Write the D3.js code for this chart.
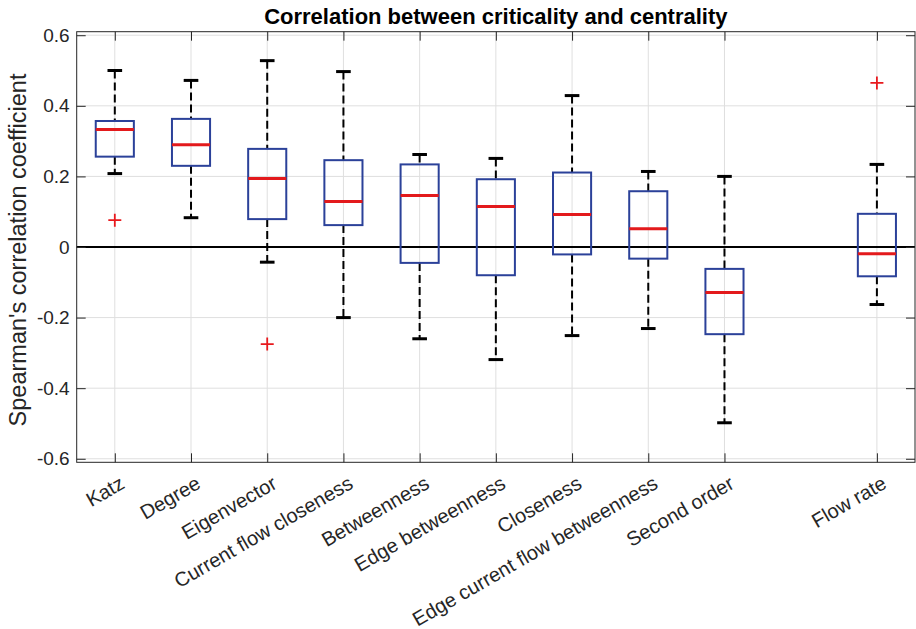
<!DOCTYPE html>
<html lang="en">
<head>
    <meta charset="UTF-8">
    <title>Correlation between criticality and centrality</title>
    <script src="https://d3js.org/d3.v7.min.js"></script>
    <style>
        body { margin: 0; background: #fff; font-family: "Liberation Sans", Arial, sans-serif; }
        text { fill: #262626; }
        .grid line { stroke: #dfdfdf; stroke-width: 1px; }
        .axis path, .axis line { stroke: #262626; stroke-width: 1px; }
        .axis text { font-size: 19px; fill: #262626; font-family: "Liberation Sans", Arial, sans-serif; }
    </style>
</head>
<body>
    <svg id="chart" width="916" height="629"></svg>

    <script>
        // box summaries
        const categories = ["Katz", "Degree", "Eigenvector", "Current flow closeness", "Betweenness",
            "Edge betweenness", "Closeness", "Edge current flow betweenness", "Second order", "Flow rate"];
        const positions = [1, 2, 3, 4, 5, 6, 7, 8, 9, 11];
        const whiskerHigh = [0.500, 0.472, 0.528, 0.497, 0.262, 0.251, 0.429, 0.214, 0.200, 0.234];
        const q3 = [0.357, 0.363, 0.278, 0.246, 0.234, 0.192, 0.211, 0.158, -0.062, 0.094];
        const medians = [0.333, 0.290, 0.194, 0.129, 0.146, 0.115, 0.092, 0.052, -0.129, -0.019];
        const q1 = [0.256, 0.230, 0.079, 0.062, -0.045, -0.080, -0.021, -0.033, -0.247, -0.083];
        const whiskerLow = [0.208, 0.083, -0.043, -0.200, -0.260, -0.319, -0.251, -0.231, -0.498, -0.163];
        const outliers = [[0.076], [], [-0.275], [], [], [], [], [], [], [0.465]];
        const yTicks = [-0.6, -0.4, -0.2, 0, 0.2, 0.4, 0.6];

        const svg = d3.select("#chart");
        const pLeft = 76.7, pRight = 915, pTop = 31.7, pBottom = 462.3;

        const x = d3.scaleLinear().domain([0.5, 11.5]).range([pLeft, pRight]);
        const y = d3.scaleLinear().domain([-0.61, 0.61]).range([pBottom, pTop]);
        const boxHalf = x(1.25) - x(1);
        const capHalf = x(1.096) - x(1);

        const boxes = categories.map((c, i) => ({
            name: c, pos: positions[i], hi: whiskerHigh[i], q3: q3[i],
            med: medians[i], q1: q1[i], lo: whiskerLow[i], out: outliers[i]
        }));

        // grid
        svg.append("g").attr("class", "grid")
            .selectAll("line").data(yTicks).enter().append("line")
            .attr("x1", pLeft).attr("x2", pRight)
            .attr("y1", d => y(d)).attr("y2", d => y(d));
        svg.append("g").attr("class", "grid")
            .selectAll("line").data(positions).enter().append("line")
            .attr("y1", pTop).attr("y2", pBottom)
            .attr("x1", d => x(d)).attr("x2", d => x(d));

        // zero line
        svg.append("line")
            .attr("x1", pLeft).attr("x2", pRight)
            .attr("y1", y(0)).attr("y2", y(0))
            .attr("stroke", "#000").attr("stroke-width", 2.2);

        const box = svg.append("g").selectAll(".box").data(boxes).enter()
            .append("g").attr("class", "box");

        // whiskers
        box.append("line")
            .attr("x1", d => x(d.pos)).attr("x2", d => x(d.pos))
            .attr("y1", d => y(d.hi)).attr("y2", d => y(d.q3))
            .attr("stroke", "#000").attr("stroke-width", 2).attr("stroke-dasharray", "8,4");
        box.append("line")
            .attr("x1", d => x(d.pos)).attr("x2", d => x(d.pos))
            .attr("y1", d => y(d.q1)).attr("y2", d => y(d.lo))
            .attr("stroke", "#000").attr("stroke-width", 2).attr("stroke-dasharray", "8,4");
        // caps
        ["hi", "lo"].forEach(k => {
            box.append("line")
                .attr("x1", d => x(d.pos) - capHalf).attr("x2", d => x(d.pos) + capHalf)
                .attr("y1", d => y(d[k])).attr("y2", d => y(d[k]))
                .attr("stroke", "#000").attr("stroke-width", 3);
        });
        // box
        box.append("rect")
            .attr("x", d => x(d.pos) - boxHalf).attr("width", boxHalf * 2)
            .attr("y", d => y(d.q3)).attr("height", d => y(d.q1) - y(d.q3))
            .attr("fill", "none").attr("stroke", "#2b4199").attr("stroke-width", 2);
        // median
        box.append("line")
            .attr("x1", d => x(d.pos) - boxHalf).attr("x2", d => x(d.pos) + boxHalf)
            .attr("y1", d => y(d.med)).attr("y2", d => y(d.med))
            .attr("stroke", "#e31a1c").attr("stroke-width", 3);
        // outliers
        box.selectAll(".out").data(d => d.out.map(v => ({ pos: d.pos, v }))).enter()
            .append("path").attr("class", "out")
            .attr("d", d => `M${x(d.pos) - 6.5},${y(d.v)}h13M${x(d.pos)},${y(d.v) - 6.5}v13`)
            .attr("stroke", "#e8191d").attr("stroke-width", 1.8);

        // axes, ticks pointing inward
        svg.append("g").attr("class", "axis")
            .attr("transform", `translate(${pLeft},0)`)
            .call(d3.axisLeft(y).tickValues(yTicks).tickSize(-9).tickPadding(7)
                .tickFormat(d => d === 0 ? "0" : d.toFixed(1)));
        svg.append("g").attr("class", "axis")
            .attr("transform", `translate(${pRight},0)`)
            .call(d3.axisRight(y).tickValues(yTicks).tickSize(-9).tickFormat(""));
        svg.append("g").attr("class", "axis")
            .attr("transform", `translate(0,${pTop})`)
            .call(d3.axisTop(x).tickValues(positions).tickSize(-9).tickFormat(""));
        svg.append("g").attr("class", "axis")
            .attr("transform", `translate(0,${pBottom})`)
            .call(d3.axisBottom(x).tickValues(positions).tickSize(-9).tickFormat(""));
        svg.selectAll(".axis .domain").remove();

        // frame
        svg.append("rect")
            .attr("x", pLeft).attr("y", pTop)
            .attr("width", pRight - pLeft).attr("height", pBottom - pTop)
            .attr("fill", "none").attr("stroke", "#262626").attr("stroke-width", 1);

        // rotated category labels
        svg.append("g").selectAll("text").data(boxes).enter().append("text")
            .attr("transform", d => `translate(${x(d.pos) + 11},${pBottom + 25}) rotate(-30)`)
            .attr("text-anchor", "end")
            .style("font-size", "20px")
            .text(d => d.name);

        // title
        svg.append("text")
            .attr("x", (pLeft + pRight) / 2).attr("y", 24)
            .attr("text-anchor", "middle")
            .style("font-size", "22px").style("font-weight", "bold").style("fill", "#000")
            .text("Correlation between criticality and centrality");

        // y label
        svg.append("text")
            .attr("transform", `translate(26,${(pTop + pBottom) / 2 + 3}) rotate(-90)`)
            .attr("text-anchor", "middle")
            .style("font-size", "23.5px")
            .text("Spearman's correlation coefficient");
    </script>
</body>
</html>
